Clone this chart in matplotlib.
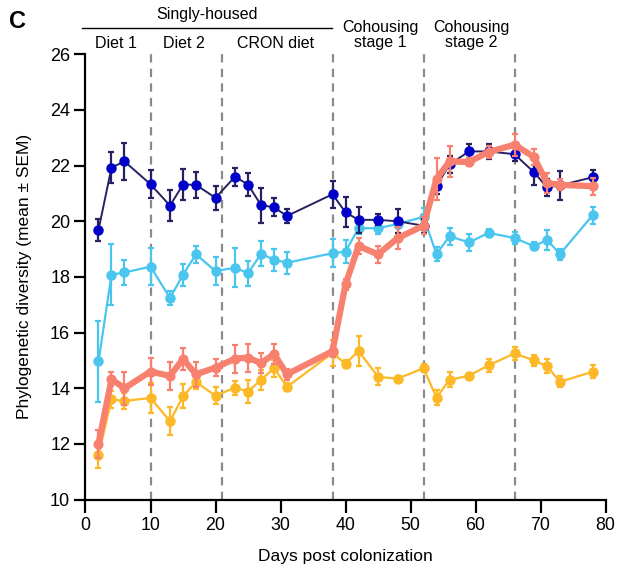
import matplotlib
matplotlib.use("Agg")
import matplotlib.pyplot as plt

plt.rcParams['font.family'] = ['Liberation Sans', 'DejaVu Sans']
plt.rcParams['lines.scale_dashes'] = False

days = [2, 4, 6, 10, 13, 15, 17, 20, 23, 25, 27, 29, 31, 38, 40, 42, 45, 48,
        52, 54, 56, 59, 62, 66, 69, 71, 73, 78]

navy_mean = [19.69, 21.93, 22.15, 21.33, 20.56, 21.32, 21.31, 20.84, 21.60, 21.32,
             20.58, 20.50, 20.19, 20.97, 20.32, 20.05, 20.05, 20.00, 19.84, 21.27,
             22.04, 22.51, 22.51, 22.41, 21.76, 21.22, 21.29, 21.58]
navy_sem = [0.40, 0.55, 0.67, 0.50, 0.55, 0.56, 0.46, 0.42, 0.32, 0.40,
            0.63, 0.32, 0.24, 0.48, 0.54, 0.47, 0.20, 0.44, 0.25, 0.30,
            0.30, 0.25, 0.28, 0.25, 0.45, 0.30, 0.53, 0.25]

cyan_mean = [14.96, 18.08, 18.16, 18.37, 17.24, 18.08, 18.81, 18.21, 18.33, 18.13,
             18.83, 18.62, 18.51, 18.85, 18.91, 19.75, 19.75, 19.90, 20.16, 18.82,
             19.46, 19.24, 19.58, 19.40, 19.10, 19.33, 18.82, 20.21]
cyan_sem = [1.45, 1.10, 0.45, 0.67, 0.26, 0.40, 0.30, 0.50, 0.70, 0.45,
            0.45, 0.40, 0.40, 0.50, 0.40, 0.20, 0.20, 0.15, 0.30, 0.25,
            0.30, 0.30, 0.15, 0.20, 0.15, 0.35, 0.20, 0.30]

yellow_mean = [11.59, 13.60, 13.54, 13.65, 12.81, 13.71, 14.22, 13.73, 14.02, 13.88,
               14.30, 14.72, 14.05, 15.26, 14.88, 15.34, 14.41, 14.34, 14.72, 13.66,
               14.30, 14.45, 14.82, 15.25, 15.00, 14.79, 14.23, 14.59]
yellow_sem = [0.45, 0.30, 0.30, 0.55, 0.50, 0.43, 0.25, 0.30, 0.25, 0.40,
              0.35, 0.30, 0.15, 0.48, 0.15, 0.55, 0.30, 0.10, 0.15, 0.26,
              0.27, 0.10, 0.24, 0.23, 0.20, 0.25, 0.20, 0.24]

salmon_mean = [12.00, 14.32, 14.00, 14.60, 14.44, 15.05, 14.50, 14.74, 15.06, 15.10,
               14.90, 15.23, 14.50, 15.33, 17.73, 19.11, 18.81, 19.39, 19.84, 21.52,
               22.15, 22.13, 22.49, 22.75, 22.31, 21.37, 21.31, 21.26]
salmon_sem = [0.50, 0.25, 0.60, 0.50, 0.50, 0.40, 0.45, 0.30, 0.50, 0.50,
              0.35, 0.37, 0.20, 0.20, 0.20, 0.30, 0.30, 0.40, 0.30, 0.75,
              0.55, 0.15, 0.20, 0.40, 0.30, 0.35, 0.20, 0.30]

phase_bounds = [10, 21, 38, 52, 66]
xticks = list(range(0, 81, 10))
yticks = list(range(10, 27, 2))

fig = plt.figure(figsize=(6.17, 5.71), dpi=100)
ax = fig.add_axes([85.5 / 617, 1 - 499.5 / 571, (605.5 - 85.5) / 617, (499.5 - 54.3) / 571])

for b in phase_bounds:
    ax.axvline(b, color='#8a8a8a', lw=1.6, linestyle=(0, (6, 4.5)), zorder=1)

def series(mean, sem, line_c, mark_c, err_c, lw, ms, z):
    ax.errorbar(days, mean, yerr=sem, fmt='-o', color=line_c, mfc=mark_c, mec=mark_c,
                ecolor=err_c, elinewidth=1.6, capsize=2.2, capthick=1.6,
                lw=lw, ms=ms, zorder=z)

series(yellow_mean, yellow_sem, '#FDB827', '#FDB827', '#FDB827', 1.6, 6.5, 3)
series(cyan_mean, cyan_sem, '#4AC6EE', '#4AC6EE', '#4AC6EE', 1.6, 6.5, 4)
series(navy_mean, navy_sem, '#262262', '#0000C8', '#262262', 1.4, 6.5, 5)
series(salmon_mean, salmon_sem, '#F8806F', '#F8806F', '#F8806F', 4.5, 6.3, 6)

ax.set_xlim(0, 80)
ax.set_ylim(10, 26)
ax.set_xticks(xticks)
ax.set_yticks(yticks)
ax.spines['top'].set_visible(False)
ax.spines['right'].set_visible(False)
for s in ['left', 'bottom']:
    ax.spines[s].set_linewidth(1.6)
ax.tick_params(axis='x', length=9.5, width=1.6, labelsize=12.8, pad=3)
ax.tick_params(axis='y', length=8, width=1.6, labelsize=13, pad=3)
ax.set_xlabel('Days post colonization', fontsize=12.5, labelpad=11)
ax.set_ylabel('Phylogenetic diversity (mean ± SEM)', fontsize=12.5, labelpad=13)

def ftext(px, py, s, **kw):
    fig.text(px / 617, 1 - py / 571, s, ha='center', va='center', **kw)

ftext(18, 21, 'C', fontsize=17, fontweight='bold')
ftext(207, 15, 'Singly-housed', fontsize=11.5)
fig.add_artist(plt.Line2D([82 / 617, 332 / 617], [1 - 27.7 / 571, 1 - 27.7 / 571],
                          color='black', lw=1.0))
ftext(116, 43, 'Diet 1', fontsize=11.5)
ftext(184, 43, 'Diet 2', fontsize=11.5)
ftext(276, 43, 'CRON diet', fontsize=11.5)
ftext(380, 35, 'Cohousing\nstage 1', fontsize=11.5, linespacing=1.0)
ftext(471, 35, 'Cohousing\nstage 2', fontsize=11.5, linespacing=1.0)

fig.savefig('out.png', dpi=100)
